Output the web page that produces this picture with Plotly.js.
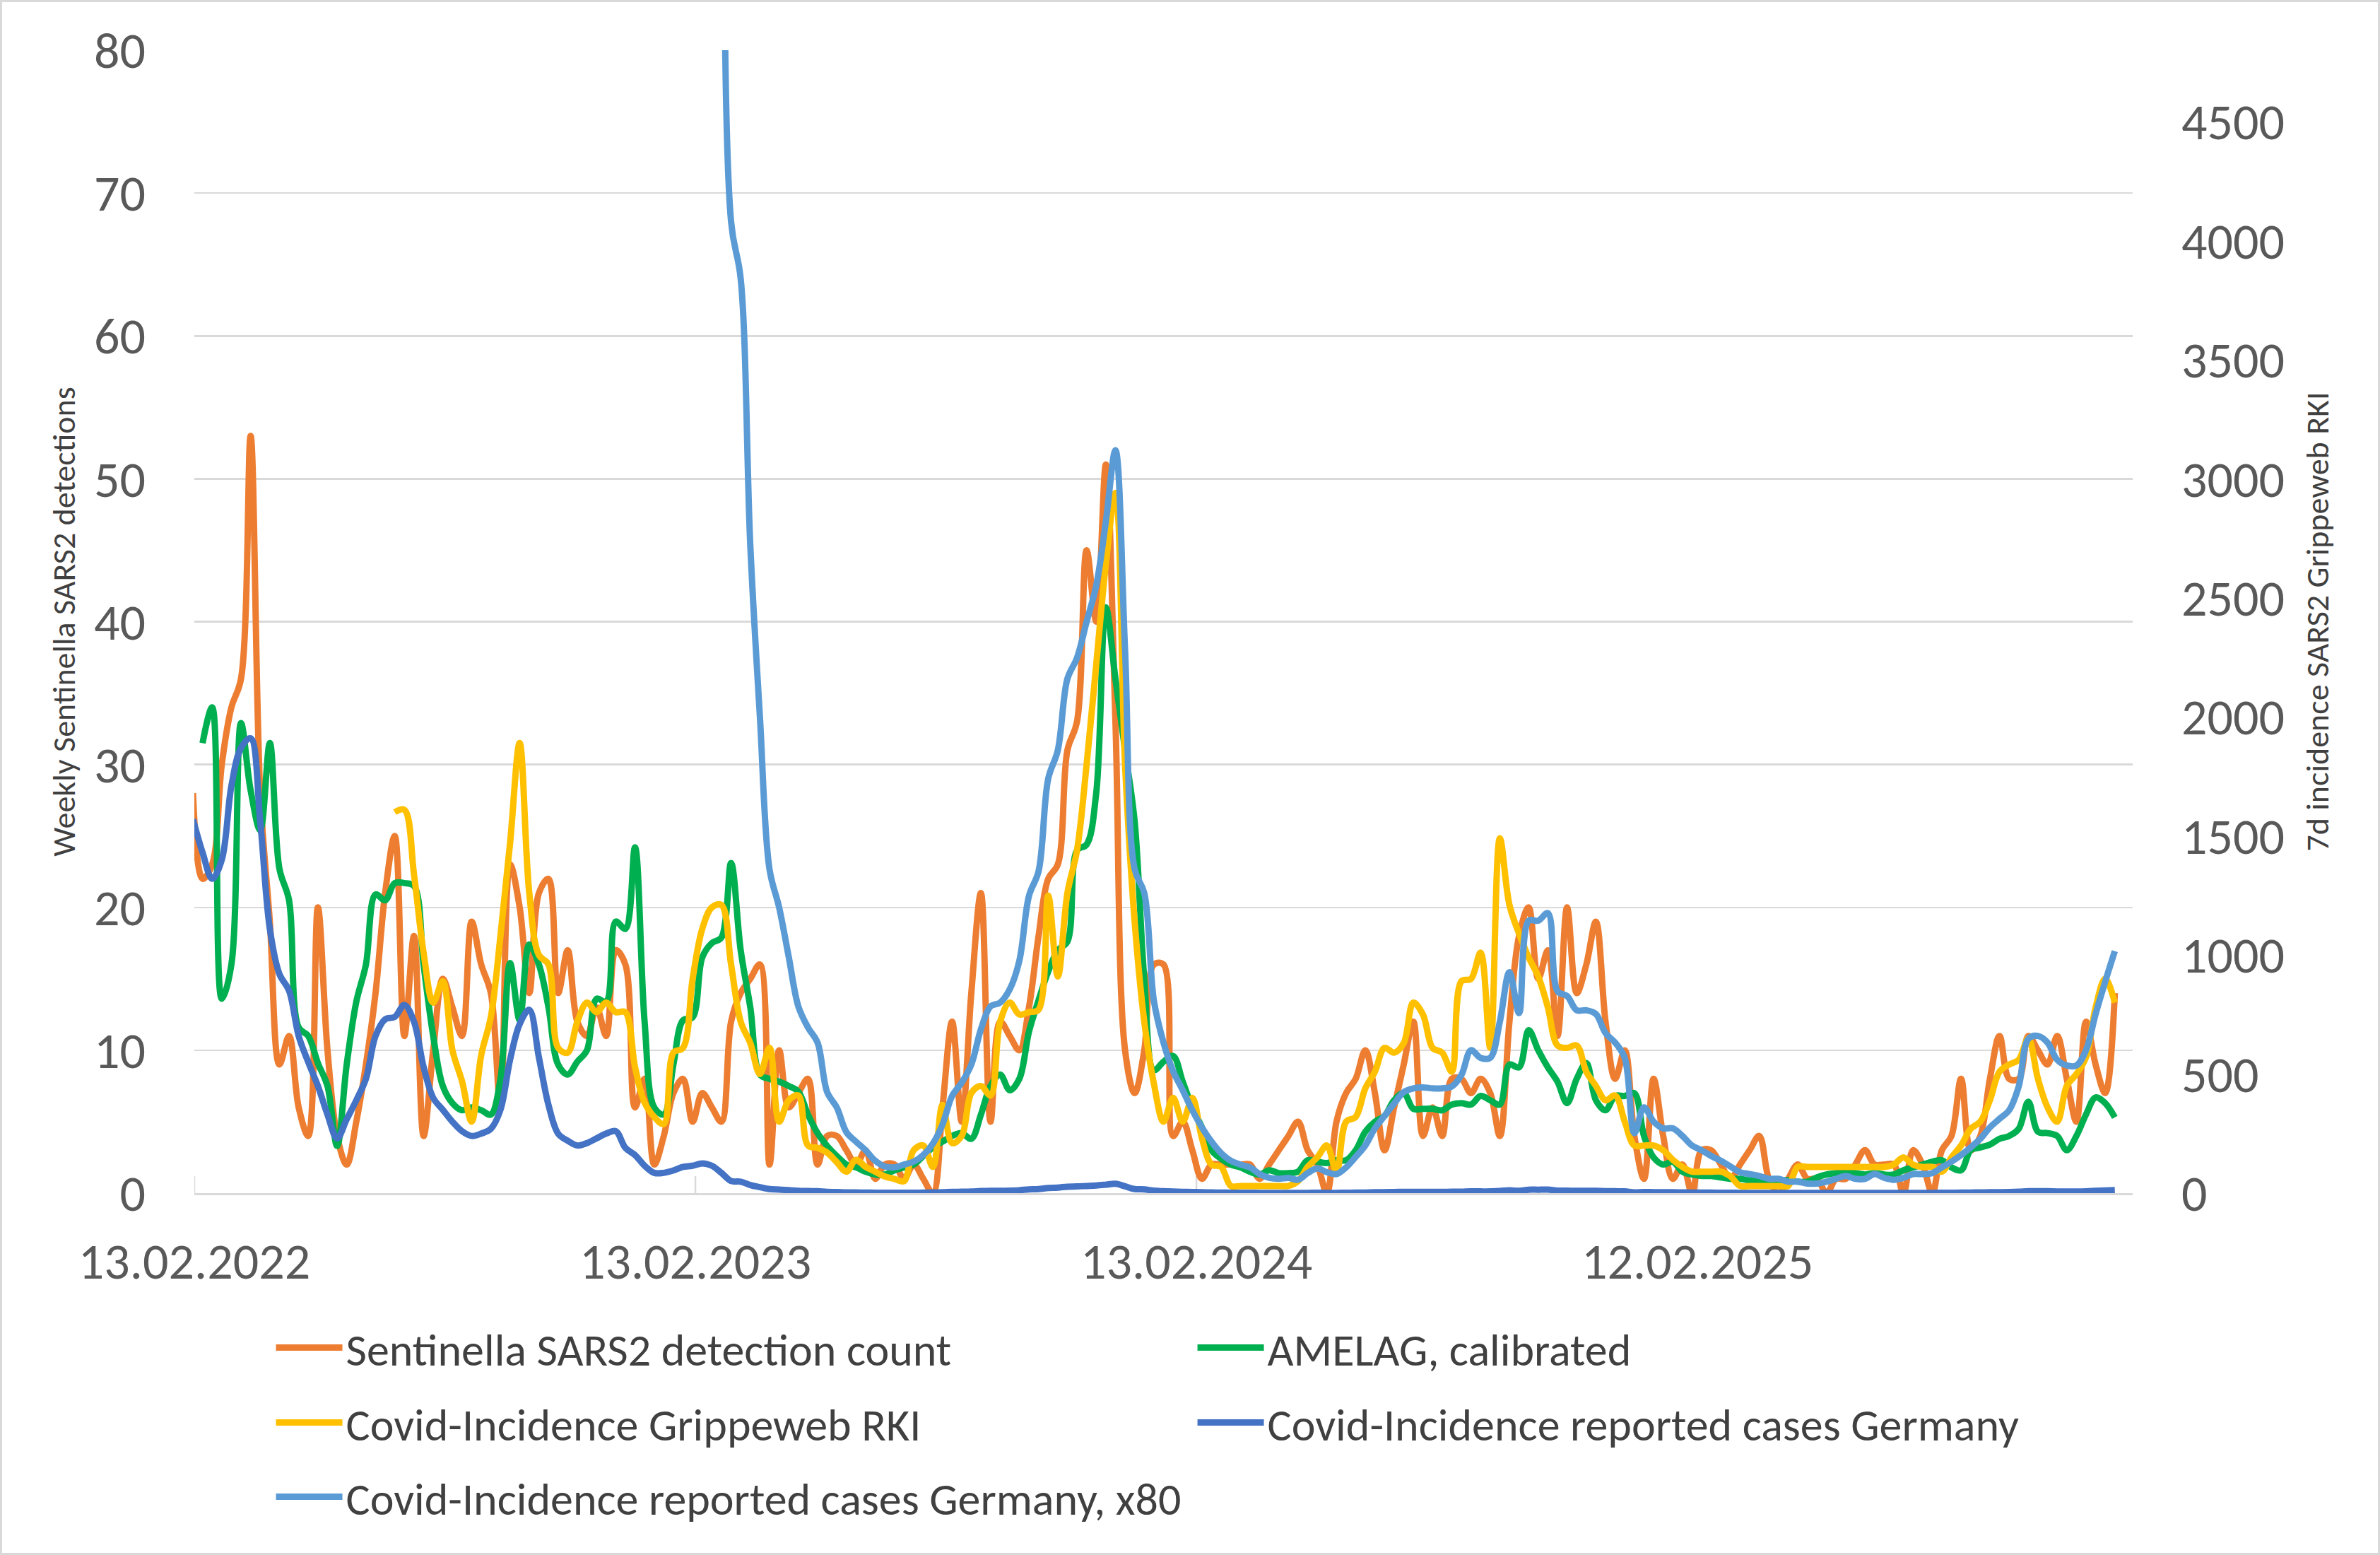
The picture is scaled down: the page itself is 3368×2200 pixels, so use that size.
<!DOCTYPE html>
<html>
<head>
<meta charset="utf-8">
<script src="https://cdn.plot.ly/plotly-3.0.1.min.js"></script>
<style>
html,body{margin:0;padding:0;background:#fff;}
#chart{width:3368px;height:2200px;}
#frame{position:absolute;left:0;top:0;width:3368px;height:2200px;box-sizing:border-box;border:3px solid #d9d9d9;pointer-events:none;}
</style>
</head>
<body>
<div id="chart"></div>
<div id="frame"></div>
<script>
// ---- weekly data (first week 2022-02-12) ----
const weekStart = '2022-02-12';

// Sentinella SARS2 detection count (left axis)
const sentinella = [28,22,23,30,34,36,53,28,19,9,
11,6,4,20,10,4,2,5,9,14,
21,25,11,18,4,10,15,13,11,19,
16,14,6,23,20,14,21,22,14,17,
12,11,13,11,17,16,6,8,2,4,
7,8,5,7,6,5,12,14,15,16,
2,10,6,7,8,2,4,4,3,2,
3,1,2,2,1,2,1,0,6,12,
5,14,21,5,12,11,10,13,18,22,
23,31,33,45,40,51,33,10,7,10,
16,16,4,5,3,1,2,2,2,2,
2,1,2,3,4,5,3,2,0,5,
7,8,10,7,3,6,9,12,4,6,
4,8,8,7,8,7,4,12,18,20,
15,17,11,20,14,16,19,12,8,10,
4,1,8,4,1,2,0,3,3,2,
1,2,3,4,1,0,1,2,1,1,
0,1,1,2,3,2,2,2,0,3,
2,0,3,4,8,3,4,8,11,8,
8,11,10,9,11,8,5,12,9,7,
14];

// AMELAG, calibrated (left axis)
const amelag = [null,31.5,34,13.6,16,32.9,28.2,25.4,31.5,22.7,
20.5,11.6,11,9.1,7.5,3.3,9,13.4,16,20.9,
20.5,21.7,21.7,21.5,16,11,7.5,6.3,5.8,6.0,
5.8,5.5,8,16.1,12.1,17.4,16,13,9,8.3,
9.2,10,13.6,13.4,19,18.5,24.2,12,6,5.5,
9,12.1,12.3,16.5,17.5,17.9,23.1,17,13,8.3,
8.0,7.8,7.5,7.1,5.5,4.2,3.3,2.6,2.0,1.8,
1.5,1.3,1.3,1.6,1.8,2.0,2.6,3.2,3.6,4.0,
4.2,3.8,5.5,7.5,8.3,7.2,8.0,11.3,13.5,15.5,
17,17.6,24,24.4,28,41,36,31,26,15,
8.6,9.2,9.6,7.8,6.0,4.6,3.0,2.4,2.0,1.8,
1.5,1.3,1.6,1.4,1.4,1.5,2.3,2.2,2.1,2.3,
2.3,3.0,4.3,5.0,5.4,6.5,7.0,5.9,5.9,5.9,
5.8,6.2,6.3,6.2,6.8,6.5,6.2,9.0,8.8,11.4,
10,8.8,7.8,6.3,8,9.1,6.5,5.8,6.8,6.8,
7.0,4.0,2.5,2.0,2.2,1.5,1.3,1.2,1.2,1.1,
1.0,1.0,0.9,0.9,0.9,0.9,0.9,0.8,0.8,1.1,
1.3,1.4,1.5,1.4,1.3,1.4,1.3,1.3,1.6,1.8,
2.0,2.2,2.3,1.8,1.6,3.0,3.2,3.4,3.8,4.0,
4.5,6.4,4.3,4.2,4.0,3.0,4.0,5.5,6.7,6.3,
5.3];

// Covid-Incidence Grippeweb RKI (right axis)
const grippeweb = [null,null,null,null,null,null,null,null,null,null,
null,null,null,null,null,null,null,null,null,null,
null,1600,1610,1340,1010,800,890,600,470,300,
580,740,1080,1470,1890,1260,1000,960,610,590,
720,800,760,800,760,760,530,380,320,290,
590,610,900,1110,1200,1210,960,720,630,500,
610,300,390,410,200,190,170,130,90,140,
110,90,70,60,50,180,200,110,370,210,
240,420,450,410,720,800,750,760,770,1250,
910,1260,1440,1800,2220,2640,2940,1800,1140,720,
460,300,400,300,400,230,120,110,30,30,
30,30,30,30,30,50,110,150,200,90,
300,320,440,510,610,590,630,800,750,610,
590,510,890,900,1010,610,1490,1210,1090,990,
910,780,620,610,620,510,450,390,410,300,
200,200,200,180,140,110,90,90,90,90,
70,30,30,30,30,30,30,110,110,110,
110,110,110,110,110,110,110,120,150,120,
110,110,90,150,200,270,300,390,510,540,
560,650,480,360,300,450,500,570,780,900,
800];

// Covid-Incidence reported cases Germany (right axis, 7d incidence)
const reported = [1570,1430,1320,1400,1710,1870,1910,1560,1110,920,
850,660,550,450,330,230,310,390,480,660,
730,740,790,720,530,400,350,300,260,240,
250,270,350,560,710,770,570,370,250,220,
200,210,230,250,260,190,160,115,85,85,
95,110,115,125,115,85,51,48,34,25,
17,15,12.4,9.8,8.7,7.9,5.3,4.5,3.2,2.7,
2.25,1.7,1.4,1.35,1.5,1.65,2.0,2.6,3.6,5.1,
5.8,6.75,8.6,9.8,10,10.7,12.2,15.6,16.9,21.75,
23.25,27,28.1,30,31.9,35.25,39,28.5,17,15.75,
10.1,7.9,6.4,5.4,4.35,3.45,2.7,2.1,1.7,1.5,
1.35,1.0,0.8,0.75,0.8,0.7,1.05,1.3,1.1,1.0,
1.35,1.9,2.5,3.4,4.05,4.7,5.3,5.5,5.55,5.5,
5.5,5.6,6.2,7.5,7.1,7.1,9,11.6,9.45,14.3,
14.3,14.7,10.6,10.35,9.6,9.6,9.4,8.4,7.9,7.1,
3.15,4.5,3.75,3.4,3.4,3.0,2.5,2.25,1.95,1.7,
1.4,1.1,1.0,0.9,0.75,0.75,0.6,0.6,0.5,0.5,
0.6,0.75,0.9,0.75,0.75,1.0,0.8,0.7,0.8,1.0,
1.0,1.05,1.35,1.65,2.0,2.4,2.85,3.45,3.9,4.35,
5.6,8.1,8.25,7.9,7.0,6.7,6.7,7.5,9.4,11.1,
12.7];

const scaleFactor = 80; // "x80" series

const seriesNames = ['Sentinella SARS2 detection count','AMELAG, calibrated','Covid-Incidence Grippeweb RKI','Covid-Incidence reported cases Germany','Covid-Incidence reported cases Germany, x80'];
const seriesColors = ['#ED7D31','#00B050','#FFC000','#4472C4','#5B9BD5'];

const tickDates = ['2022-02-13','2023-02-13','2024-02-13','2025-02-12'];
const tickLabels = ['13.02.2022','13.02.2023','13.02.2024','12.02.2025'];
const xRange = ['2022-02-13','2025-12-26'];
const leftTicks = [0,10,20,30,40,50,60,70,80];
const rightTicks = [0,500,1000,1500,2000,2500,3000,3500,4000,4500];

// ---- build ----
const t0 = Date.parse(weekStart + 'T00:00:00Z');
const dates = sentinella.map((_, i) => new Date(t0 + i * 7 * 86400000).toISOString().slice(0, 10));
const scaled = reported.map(v => v * scaleFactor);

const FONT = 'Carlito, Calibri, Lato, "Liberation Sans", sans-serif';
const LW = 9;
const legendIds = ['legend','legend2','legend3','legend4','legend5'];
function mk(y, idx, axis) {
  return {x: dates, y: y, type: 'scatter', mode: 'lines', name: seriesNames[idx], yaxis: axis,
    legend: legendIds[idx],
    line: {color: seriesColors[idx], width: LW, shape: 'spline', smoothing: 1}, connectgaps: false, hoverinfo: 'skip'};
}
const traces = [
  mk(sentinella, 0, 'y'),
  mk(amelag, 1, 'y'),
  mk(grippeweb, 2, 'y2'),
  mk(reported, 3, 'y2'),
  mk(scaled, 4, 'y2')
];

const crossTicks = tickDates.map(d => ({type: 'line', xref: 'x', yref: 'y', x0: d, x1: d,
  ysizemode: 'pixel', yanchor: 0, y0: -24, y1: 24, layer: 'below', line: {color: '#D9D9D9', width: 2.5}}));

// legend grid: two columns, three rows below the plot
const legCols = [0.0403, 0.5157, 0.0403, 0.5157, 0.0403];
const legRows = [-0.1354, -0.1354, -0.2010, -0.2010, -0.2659];
function legendBox(i) {
  return {orientation: 'h', x: legCols[i], xanchor: 'left', y: legRows[i], yanchor: 'middle',
    font: {family: FONT, size: 64, color: '#404040'}, itemwidth: 94, bgcolor: 'rgba(0,0,0,0)'};
}

const layout = {
  width: 3368, height: 2200,
  margin: {l: 275, r: 350, t: 71, b: 512, pad: 0, autoexpand: false},
  paper_bgcolor: '#ffffff', plot_bgcolor: '#ffffff',
  font: {family: FONT, color: '#595959'},
  showlegend: true,
  legend: legendBox(0), legend2: legendBox(1), legend3: legendBox(2), legend4: legendBox(3), legend5: legendBox(4),
  xaxis: {type: 'date', range: xRange, tickmode: 'array', tickvals: tickDates, ticktext: tickLabels,
    showgrid: false, zeroline: false, showline: true, linecolor: '#D9D9D9', linewidth: 2.5,
    ticks: '', ticklabelstandoff: 32, tickfont: {family: FONT, size: 72, color: '#595959'}, automargin: false},
  yaxis: {range: [0, 80], tickmode: 'array', tickvals: leftTicks, showgrid: true, gridcolor: '#D9D9D9', gridwidth: 2.5,
    zeroline: false, showline: false, ticks: '', ticklabelstandoff: 68,
    tickfont: {family: FONT, size: 72, color: '#595959'},
    title: {text: 'Weekly Sentinella SARS2 detections', font: {family: FONT, size: 46, color: '#404040'}, standoff: 11},
    automargin: false},
  yaxis2: {overlaying: 'y', side: 'right', range: [0, 4800], tickmode: 'array', tickvals: rightTicks,
    showgrid: false, zeroline: false, showline: false, ticks: '', ticklabelstandoff: 68,
    tickfont: {family: FONT, size: 72, color: '#595959'},
    title: {text: '7d incidence SARS2 Grippeweb RKI', font: {family: FONT, size: 46, color: '#404040'}, standoff: 30},
    automargin: false},
  shapes: crossTicks
};

Plotly.newPlot('chart', traces, layout, {displayModeBar: false, staticPlot: true});
</script>
</body>
</html>
